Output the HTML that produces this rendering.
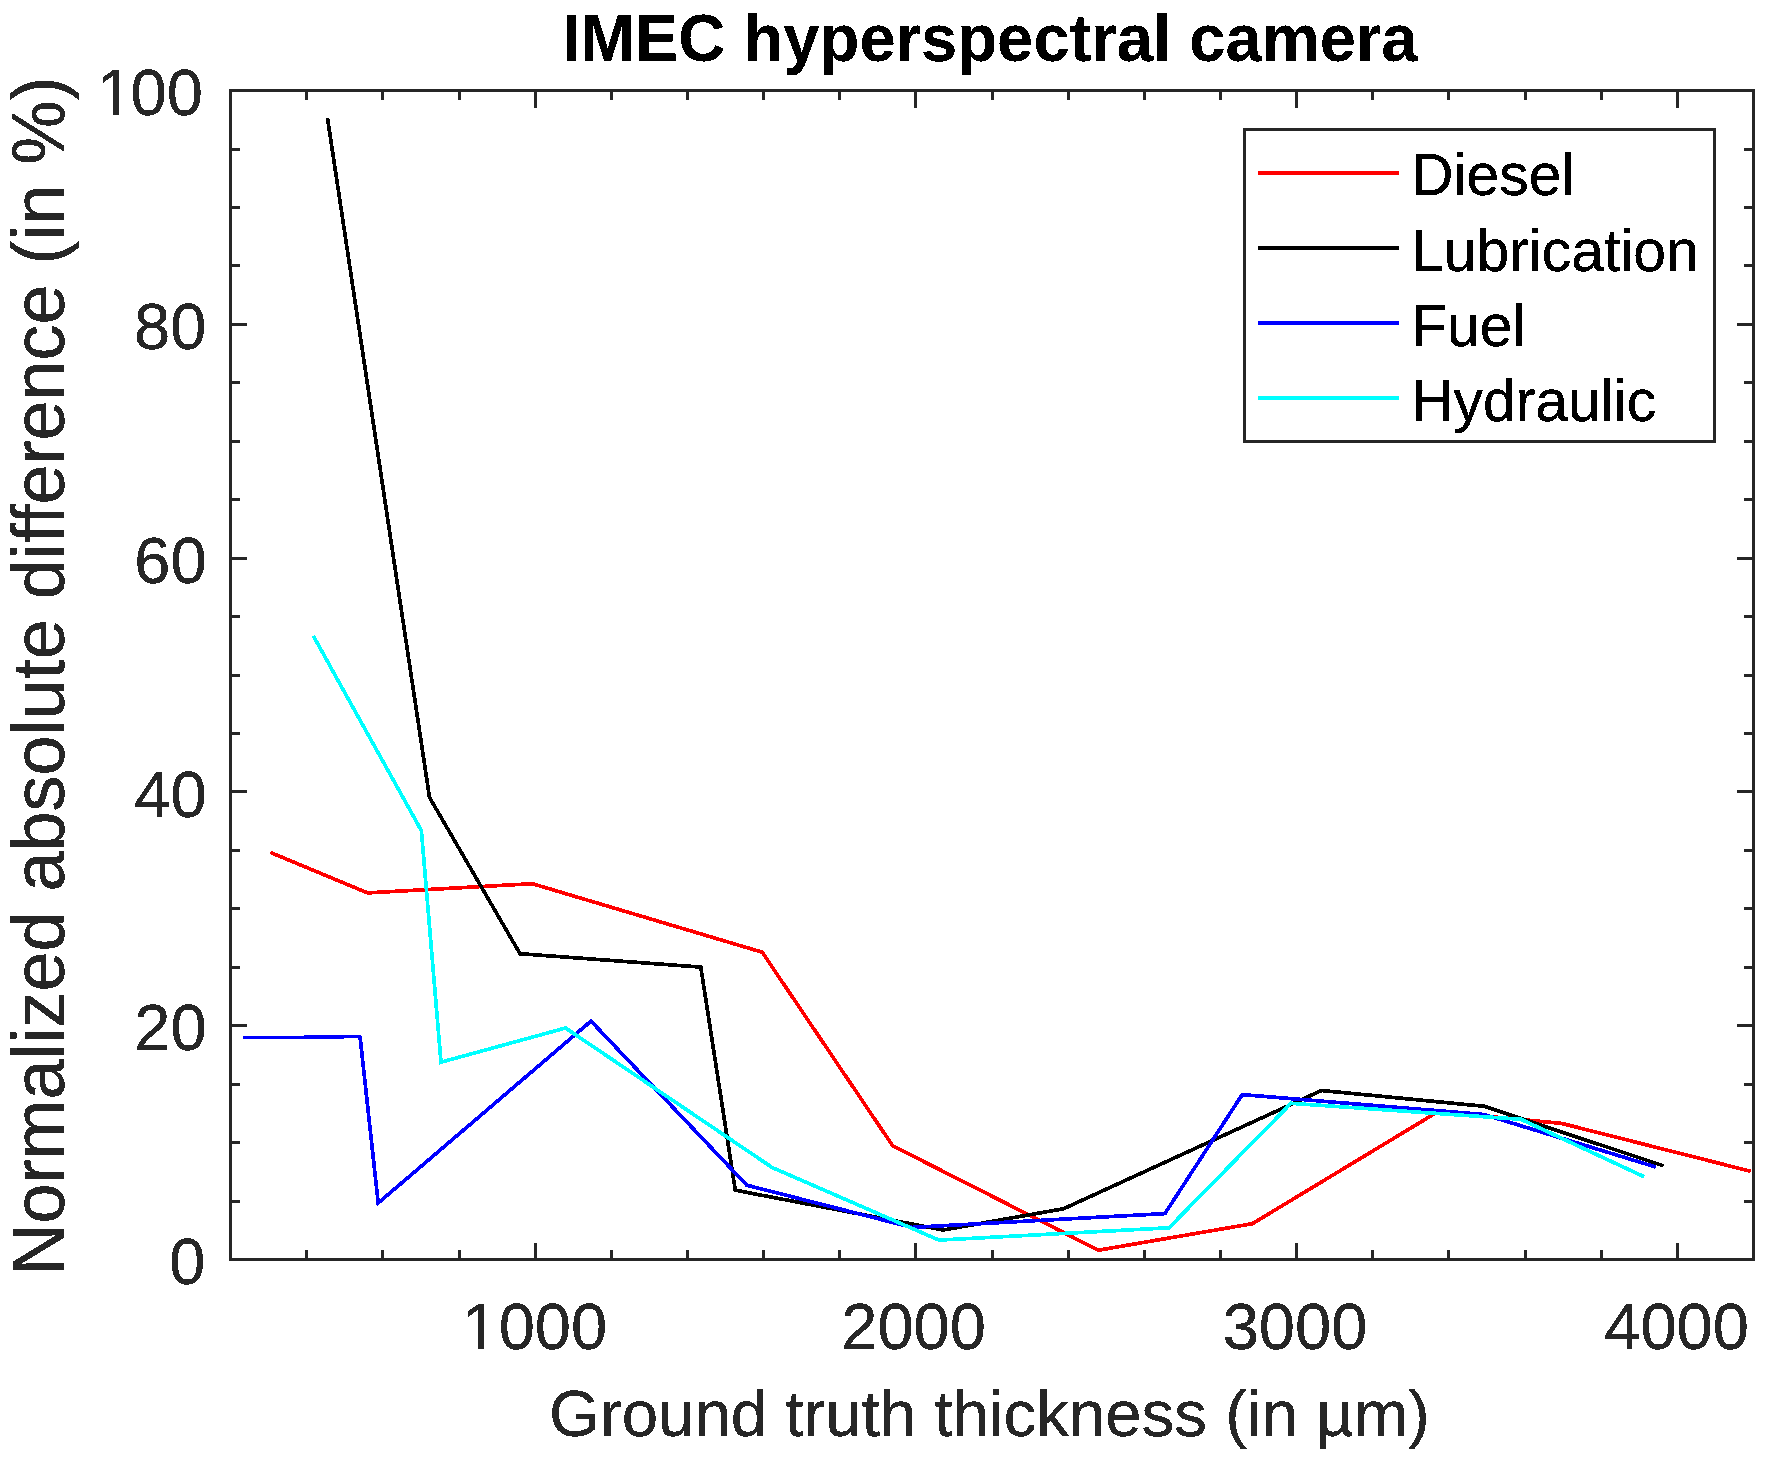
<!DOCTYPE html>
<html lang="en">
<head>
<meta charset="utf-8">
<title>IMEC hyperspectral camera</title>
<style>
html,body{margin:0;padding:0;background:#fff;}
body{width:1770px;height:1459px;overflow:hidden;}
svg{display:block;}
text{font-family:"Liberation Sans",Arial,Helvetica,sans-serif;}
.tk{font-size:65px;fill:#262626;}
.lg{font-size:58.8px;fill:#000;}
</style>
</head>
<body>
<svg width="1770" height="1459" viewBox="0 0 1770 1459">
<rect x="0" y="0" width="1770" height="1459" fill="#fff"/>
<defs><filter id="al" filterUnits="userSpaceOnUse" x="0" y="0" width="1770" height="1459" color-interpolation-filters="sRGB"><feComponentTransfer><feFuncA type="discrete" tableValues="0 1 1 1"/></feComponentTransfer></filter><filter id="al2" filterUnits="userSpaceOnUse" x="0" y="0" width="1770" height="1459" color-interpolation-filters="sRGB"><feComponentTransfer><feFuncA type="discrete" tableValues="0 0 1 1 1"/></feComponentTransfer></filter></defs>
<g shape-rendering="crispEdges">
<polyline fill="none" stroke="#ff0000" stroke-width="3.7" stroke-linejoin="miter" stroke-linecap="butt" points="270.3,852.4 367.6,892.9 532.3,883.7 762.2,952.2 892.7,1145.8 1098.4,1250.2 1252.4,1223.7 1438.0,1111.6 1561.7,1123.4 1750.7,1171.3"/>
<polyline fill="none" stroke="#000000" stroke-width="3.7" stroke-linejoin="miter" stroke-linecap="butt" points="327.5,118.0 429.5,797.4 520.0,953.7 700.8,967.1 735.3,1190.2 943.2,1230.0 1063.5,1208.8 1321.5,1090.5 1484.4,1106.3 1663.7,1165.9"/>
<path fill="#0000ff" d="M243 1036H304V1035H361V1038H344V1039H243Z"/>
<polyline fill="none" stroke="#0000ff" stroke-width="3.7" stroke-linejoin="miter" stroke-linecap="butt" points="360.0,1036.2 378.2,1203.0 591.0,1021.1 746.8,1185.2 912.0,1227.4 1164.9,1213.6 1242.2,1094.6 1484.0,1114.5 1655.8,1167.0"/>
<polyline fill="none" stroke="#00ffff" stroke-width="3.7" stroke-linejoin="miter" stroke-linecap="butt" points="313.2,635.7 421.4,830.7 441.0,1062.2 565.6,1028.0 772.3,1167.6 939.0,1240.1 1169.0,1227.8 1291.0,1103.3 1521.0,1119.3 1644.0,1176.7"/>
</g>
<g fill="#262626" shape-rendering="crispEdges">
<rect x="305" y="1250" width="3" height="11"/><rect x="305" y="89" width="3" height="11"/>
<rect x="381" y="1250" width="3" height="11"/><rect x="381" y="89" width="3" height="11"/>
<rect x="458" y="1250" width="3" height="11"/><rect x="458" y="89" width="3" height="11"/>
<rect x="534" y="1243" width="3" height="18"/><rect x="534" y="89" width="3" height="19"/>
<rect x="610" y="1250" width="3" height="11"/><rect x="610" y="89" width="3" height="11"/>
<rect x="686" y="1250" width="3" height="11"/><rect x="686" y="89" width="3" height="11"/>
<rect x="762" y="1250" width="3" height="11"/><rect x="762" y="89" width="3" height="11"/>
<rect x="838" y="1250" width="3" height="11"/><rect x="838" y="89" width="3" height="11"/>
<rect x="914" y="1243" width="3" height="18"/><rect x="914" y="89" width="3" height="19"/>
<rect x="991" y="1250" width="3" height="11"/><rect x="991" y="89" width="3" height="11"/>
<rect x="1067" y="1250" width="3" height="11"/><rect x="1067" y="89" width="3" height="11"/>
<rect x="1143" y="1250" width="3" height="11"/><rect x="1143" y="89" width="3" height="11"/>
<rect x="1219" y="1250" width="3" height="11"/><rect x="1219" y="89" width="3" height="11"/>
<rect x="1295" y="1243" width="3" height="18"/><rect x="1295" y="89" width="3" height="19"/>
<rect x="1371" y="1250" width="3" height="11"/><rect x="1371" y="89" width="3" height="11"/>
<rect x="1447" y="1250" width="3" height="11"/><rect x="1447" y="89" width="3" height="11"/>
<rect x="1524" y="1250" width="3" height="11"/><rect x="1524" y="89" width="3" height="11"/>
<rect x="1600" y="1250" width="3" height="11"/><rect x="1600" y="89" width="3" height="11"/>
<rect x="1676" y="1243" width="3" height="18"/><rect x="1676" y="89" width="3" height="19"/>
<rect x="229" y="1200" width="11" height="3"/><rect x="1744" y="1200" width="11" height="3"/>
<rect x="229" y="1141" width="11" height="3"/><rect x="1744" y="1141" width="11" height="3"/>
<rect x="229" y="1083" width="11" height="3"/><rect x="1744" y="1083" width="11" height="3"/>
<rect x="229" y="1024" width="18" height="3"/><rect x="1737" y="1024" width="18" height="3"/>
<rect x="229" y="966" width="11" height="3"/><rect x="1744" y="966" width="11" height="3"/>
<rect x="229" y="907" width="11" height="3"/><rect x="1744" y="907" width="11" height="3"/>
<rect x="229" y="849" width="11" height="3"/><rect x="1744" y="849" width="11" height="3"/>
<rect x="229" y="790" width="18" height="3"/><rect x="1737" y="790" width="18" height="3"/>
<rect x="229" y="732" width="11" height="3"/><rect x="1744" y="732" width="11" height="3"/>
<rect x="229" y="674" width="11" height="3"/><rect x="1744" y="674" width="11" height="3"/>
<rect x="229" y="615" width="11" height="3"/><rect x="1744" y="615" width="11" height="3"/>
<rect x="229" y="557" width="18" height="3"/><rect x="1737" y="557" width="18" height="3"/>
<rect x="229" y="498" width="11" height="3"/><rect x="1744" y="498" width="11" height="3"/>
<rect x="229" y="440" width="11" height="3"/><rect x="1744" y="440" width="11" height="3"/>
<rect x="229" y="381" width="11" height="3"/><rect x="1744" y="381" width="11" height="3"/>
<rect x="229" y="323" width="18" height="3"/><rect x="1737" y="323" width="18" height="3"/>
<rect x="229" y="264" width="11" height="3"/><rect x="1744" y="264" width="11" height="3"/>
<rect x="229" y="206" width="11" height="3"/><rect x="1744" y="206" width="11" height="3"/>
<rect x="229" y="148" width="11" height="3"/><rect x="1744" y="148" width="11" height="3"/>
</g>
<rect x="230.5" y="90.5" width="1523.0" height="1169.0" fill="none" stroke="#262626" stroke-width="3" shape-rendering="crispEdges"/>
<g filter="url(#al)">
<text class="tk" x="96.85 130.50 166.65" y="115.2">100</text>
<text class="tk" x="206.3" y="349.0" text-anchor="end">80</text>
<text class="tk" x="206.6" y="582.8" text-anchor="end">60</text>
<text class="tk" x="206.6" y="816.6" text-anchor="end">40</text>
<text class="tk" x="206.6" y="1050.4" text-anchor="end">20</text>
<text class="tk" x="205.4" y="1284.2" text-anchor="end">0</text>
<text class="tk" x="462.00 498.65 534.80 570.95" y="1349.2">1000</text>
<text class="tk" x="913.6" y="1349.2" text-anchor="middle">2000</text>
<text class="tk" x="1295.0" y="1349.2" text-anchor="middle">3000</text>
<text class="tk" x="1676.6" y="1349.2" text-anchor="middle">4000</text>
</g>
<g filter="url(#al2)">
<text transform="translate(990,61.1) scale(1,1.03)" text-anchor="middle" style="font-size:65.2px;font-weight:bold;fill:#000">IMEC hyperspectral camera</text>
</g>
<g filter="url(#al)">
<text x="989.5" y="1436.3" text-anchor="middle" style="font-size:65.4px;fill:#262626">Ground truth thickness (in µm)</text>
<text transform="translate(64.4,676) rotate(-90) scale(1,1.02)" text-anchor="middle" style="font-size:72px;fill:#262626">Normalized absolute difference (in %)</text>
</g>
<g fill="#fff" shape-rendering="crispEdges"><rect x="99" y="109" width="14" height="8"/><rect x="119" y="109" width="13" height="8"/><rect x="465" y="1343" width="13" height="8"/><rect x="484" y="1343" width="13" height="8"/></g>
<rect x="1244.5" y="129.5" width="470" height="311.5" fill="#fff" stroke="#262626" stroke-width="3" shape-rendering="crispEdges"/>
<g filter="url(#al)">
<rect x="1258" y="171.0" width="141" height="4" fill="#ff0000" shape-rendering="crispEdges"/><text class="lg" x="1411.1" y="195.4">Diesel</text>
<rect x="1258" y="246.0" width="141" height="4" fill="#000000" shape-rendering="crispEdges"/><text class="lg" x="1411.1" y="270.8">Lubrication</text>
<rect x="1258" y="321.0" width="141" height="4" fill="#0000ff" shape-rendering="crispEdges"/><text class="lg" x="1411.1" y="346.0">Fuel</text>
<rect x="1258" y="396.0" width="141" height="4" fill="#00ffff" shape-rendering="crispEdges"/><text class="lg" x="1411.1" y="420.6">Hydraulic</text>
</g>
</svg>
</body>
</html>
